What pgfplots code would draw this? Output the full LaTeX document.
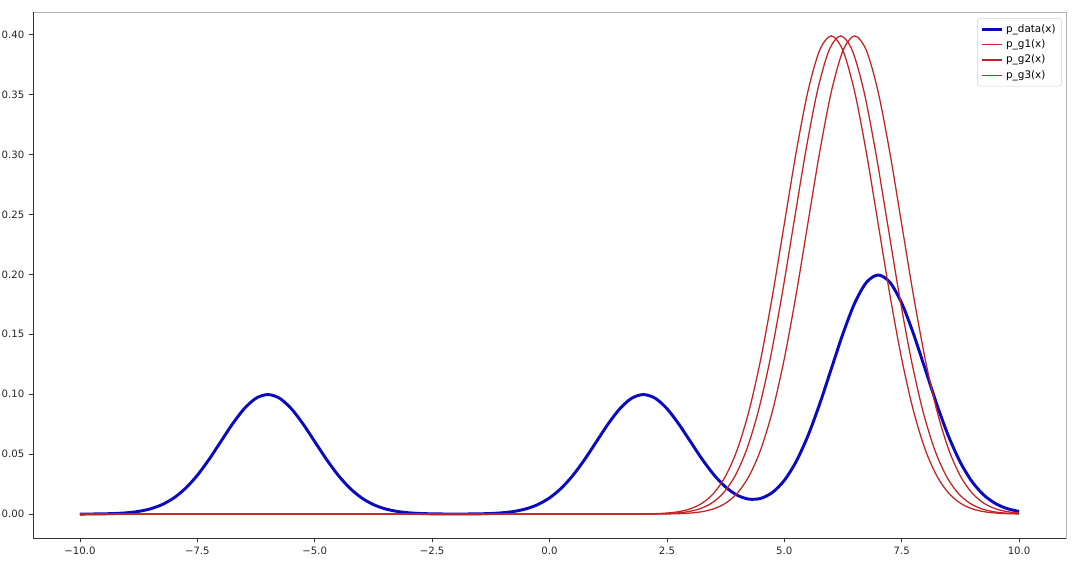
\documentclass[border=0pt]{standalone}
\usepackage{fontspec}
\setmainfont{DejaVu Sans}
\usepackage{pgfplots}
\pgfplotsset{compat=1.18}
\usepackage{pgfplotstable}
\definecolor{dblue}{RGB}{10,10,190}
\definecolor{gred}{RGB}{195,35,35}

\pgfplotstableread{
x y
-10 0.000034
-9.75 0.000088
-9.5 0.000218
-9.25 0.000507
-9 0.001108
-8.75 0.002274
-8.5 0.004382
-8.25 0.007935
-8 0.013498
-7.75 0.021569
-7.5 0.032380
-7.25 0.045662
-7 0.060493
-6.75 0.075284
-6.5 0.088016
-6.25 0.096667
-6 0.099736
-5.75 0.096667
-5.5 0.088016
-5.25 0.075284
-5 0.060493
-4.75 0.045662
-4.5 0.032380
-4.25 0.021569
-4 0.013498
-3.75 0.007935
-3.5 0.004382
-3.25 0.002274
-3 0.001108
-2.75 0.000508
-2.5 0.000222
-2.25 0.000100
-2 0.000068
-1.75 0.000100
-1.5 0.000222
-1.25 0.000508
-1 0.001108
-0.75 0.002274
-0.5 0.004382
-0.25 0.007935
0 0.013498
0.25 0.021569
0.5 0.032380
0.75 0.045662
1 0.060493
1.25 0.075284
1.5 0.088016
1.75 0.096667
2 0.099737
2.25 0.096670
2.5 0.088024
2.75 0.075308
3 0.060560
3.25 0.045839
3.5 0.032817
3.75 0.022584
4 0.015714
4.25 0.012482
4.5 0.013146
4.75 0.018144
5 0.028104
5.25 0.043646
5.5 0.064977
5.75 0.091413
6 0.121019
6.25 0.150581
6.5 0.176037
6.75 0.193334
7 0.199471
7.25 0.193334
7.5 0.176033
7.75 0.150569
8 0.120985
8.25 0.091325
8.5 0.064759
8.75 0.043139
9 0.026996
9.25 0.015870
9.5 0.008764
9.75 0.004547
10 0.002216
}\pdata

\pgfplotstableread{
x y
-10 0
1 0.000001
1.25 0.000005
1.5 0.000016
1.75 0.000048
2 0.000134
2.25 0.000353
2.5 0.000873
2.75 0.002029
3 0.004432
3.25 0.009094
3.5 0.017528
3.75 0.031740
4 0.053991
4.25 0.086277
4.5 0.129518
4.75 0.182649
5 0.241971
5.25 0.301137
5.5 0.352065
5.75 0.386668
6 0.398942
6.25 0.386668
6.5 0.352065
6.75 0.301137
7 0.241971
7.25 0.182649
7.5 0.129518
7.75 0.086277
8 0.053991
8.25 0.031740
8.5 0.017528
8.75 0.009094
9 0.004432
9.25 0.002029
9.5 0.000873
9.75 0.000353
10 0.000134
}\gone

\pgfplotstableread{
x y
-10 0
1.2 0.000001
1.45 0.000005
1.7 0.000016
1.95 0.000048
2.2 0.000134
2.45 0.000353
2.7 0.000873
2.95 0.002029
3.2 0.004432
3.45 0.009094
3.7 0.017528
3.95 0.031740
4.2 0.053991
4.45 0.086277
4.7 0.129518
4.95 0.182649
5.2 0.241971
5.45 0.301137
5.7 0.352065
5.95 0.386668
6.2 0.398942
6.45 0.386668
6.7 0.352065
6.95 0.301137
7.2 0.241971
7.45 0.182649
7.7 0.129518
7.95 0.086277
8.2 0.053991
8.45 0.031740
8.7 0.017528
8.95 0.009094
9.2 0.004432
9.45 0.002029
9.7 0.000873
9.95 0.000353
10 0.000292
}\gtwo

\pgfplotstableread{
x y
-10 0
1.5 0.000001
1.75 0.000005
2 0.000016
2.25 0.000048
2.5 0.000134
2.75 0.000353
3 0.000873
3.25 0.002029
3.5 0.004432
3.75 0.009094
4 0.017528
4.25 0.031740
4.5 0.053991
4.75 0.086277
5 0.129518
5.25 0.182649
5.5 0.241971
5.75 0.301137
6 0.352065
6.25 0.386668
6.5 0.398942
6.75 0.386668
7 0.352065
7.25 0.301137
7.5 0.241971
7.75 0.182649
8 0.129518
8.25 0.086277
8.5 0.053991
8.75 0.031740
9 0.017528
9.25 0.009094
9.5 0.004432
9.75 0.002029
10 0.000873
}\gthree

\begin{document}
\begin{tikzpicture}
\useasboundingbox (-24.75pt,-20.25pt) rectangle (785.25pt,403.5pt);
\begin{axis}[
  scale only axis,
  width=774.75pt, height=394.5pt,
  xmin=-11, xmax=11, ymin=-0.01995, ymax=0.41889,
  xtick={-10,-7.5,-5,-2.5,0,2.5,5,7.5,10},
  xticklabels={−10.0,−7.5,−5.0,−2.5,0.0,2.5,5.0,7.5,10.0},
  ytick={0,0.05,0.1,0.15,0.2,0.25,0.3,0.35,0.4},
  yticklabels={0.00,0.05,0.10,0.15,0.20,0.25,0.30,0.35,0.40},
  tick label style={font=\fontsize{7.6}{9}\selectfont, text=black!85},
  tick align=outside, major tick length=3pt,
  tick style={black!80, line width=0.5pt},
  xtick pos=bottom, ytick pos=left,
  axis line style={gray!60, line width=0.6pt},
  after end axis/.code={\draw[black!80, line width=0.6pt] (rel axis cs:0,1) -- (rel axis cs:0,0) -- (rel axis cs:1,0);},
  legend style={at={(0.996,0.988)}, anchor=north east, draw=gray!35, rounded corners=2pt,
    font=\fontsize{7.8}{9}\selectfont, row sep=0pt, inner sep=2.5pt},
  legend cell align=left,
  legend image code/.code={\draw[#1] (0cm,0cm) -- (0.52cm,0cm);},
]
\addplot[dblue, line width=2.2pt, smooth] table {\pdata};
\addlegendentry{p\_data(x)}
\addplot[gred, line width=0.95pt, smooth] table {\gone};
\addlegendentry{p\_g1(x)}
\addplot[gred, line width=0.95pt, smooth] table {\gtwo};
\addlegendentry{p\_g2(x)}
\addplot[gred, line width=0.95pt, smooth] table {\gthree};
\addlegendentry{p\_g3(x)}
\end{axis}
\end{tikzpicture}
\end{document}
